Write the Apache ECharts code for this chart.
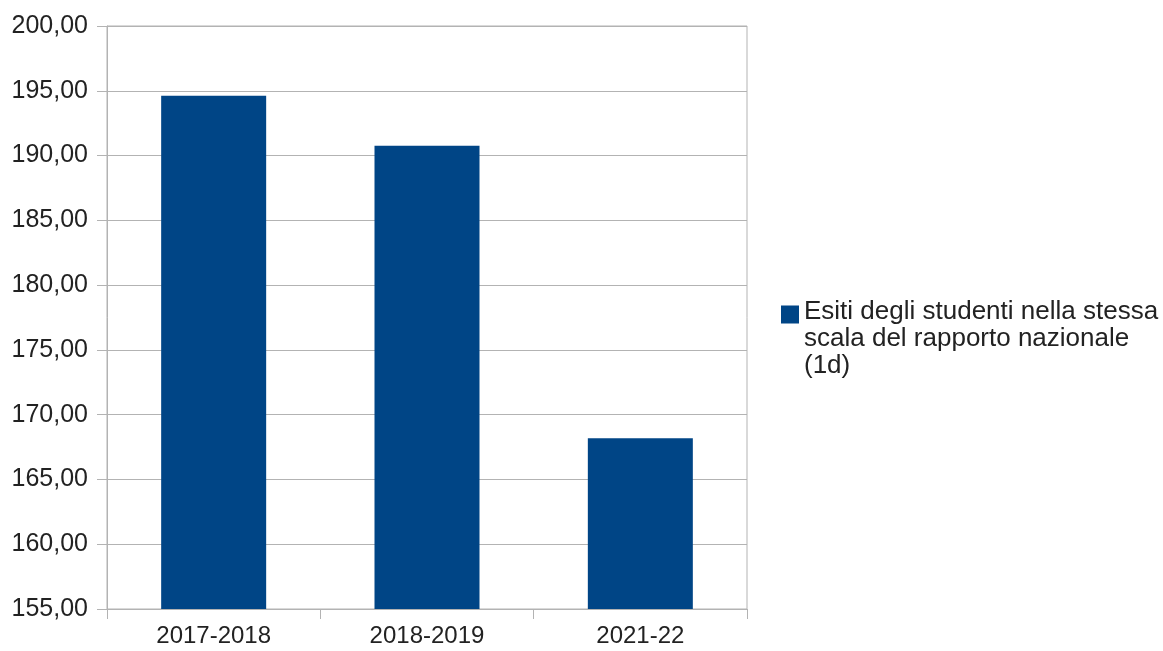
<!DOCTYPE html>
<html>
<head>
<meta charset="utf-8">
<script src="https://cdn.jsdelivr.net/npm/echarts@6/dist/echarts.min.js"></script>
<style>html,body{margin:0;padding:0;background:#fff;}#c{width:1163px;height:651px;}</style>
</head>
<body>
<div id="c"></div>
<script>
const categories = ['2017-2018', '2018-2019', '2021-22'];
const seriesName = 'Esiti degli studenti nella stessa scala del rapporto nazionale (1d)';
const legendLines = ['Esiti degli studenti nella stessa', 'scala del rapporto nazionale', '(1d)'];
const values = [194.61, 190.75, 168.18];
const yMin = 155, yMax = 200, yStep = 5;

const chart = echarts.init(document.getElementById('c'));
const font = '"Liberation Sans", Arial, sans-serif';
const grey = '#b3b3b3';
chart.setOption({
  animation: false,
  backgroundColor: '#fff',
  grid: { left: 107, right: 416, top: 26, bottom: 42, show: true, borderColor: grey, borderWidth: 1, backgroundColor: 'transparent' },
  legend: {
    left: 781, top: 298, padding: 0,
    itemWidth: 18, itemHeight: 72,
    icon: 'path://M0,0h0.01v0.01h-0.01z M0,3h18v18h-18z M0,71.99h0.01v0.01h-0.01z',
    formatter: () => legendLines.join('\n'),
    textStyle: { fontFamily: font, fontSize: 26, color: '#222', lineHeight: 27 },
    data: [seriesName]
  },
  xAxis: {
    type: 'category',
    data: categories,
    axisLine: { lineStyle: { color: grey } },
    axisTick: { show: true, length: 10, lineStyle: { color: grey } },
    axisLabel: { fontFamily: font, fontSize: 24, color: '#222', margin: 15 }
  },
  yAxis: {
    type: 'value',
    min: yMin, max: yMax, interval: yStep,
    axisLine: { show: true, lineStyle: { color: grey } },
    axisTick: { show: true, length: 10, lineStyle: { color: grey } },
    splitLine: { lineStyle: { color: grey } },
    axisLabel: { fontFamily: font, fontSize: 25, color: '#222', margin: 19,
      formatter: v => v.toFixed(2).replace('.', ',') }
  },
  series: [{
    name: seriesName,
    type: 'bar',
    data: values,
    barWidth: 105,
    itemStyle: { color: '#004586' }
  }]
});
</script>
</body>
</html>
